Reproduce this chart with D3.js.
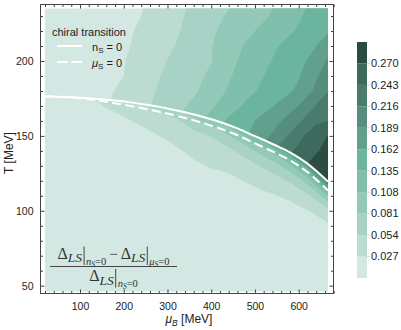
<!DOCTYPE html>
<html><head><meta charset="utf-8">
<script src="https://cdn.jsdelivr.net/npm/d3@7"></script>
<style>body{margin:0;background:#fff}svg{display:block}</style>
</head><body><svg id="c" width="401" height="330"></svg>
<script>
// ---------- data ----------
const muCols = [0,40,80,120,160,200,240,280,320,360,400,440,480,520,560,600,640,680];
// upper field (above chiral transition), rows of T (MeV)
const tRows = [240,230,220,210,200,190,180,170,160,150,140,130,120,110];
const upperValues = [
 [.005,.007,.009,.012,.016,.020,.025,.035,.046,.057,.067,.077,.088,.099,.112,.127,.142,.157],
 [.005,.007,.010,.013,.017,.021,.027,.038,.049,.060,.072,.084,.094,.104,.117,.132,.146,.159],
 [.005,.008,.011,.014,.018,.023,.030,.040,.051,.064,.077,.090,.102,.114,.126,.138,.151,.165],
 [.005,.008,.011,.015,.019,.024,.032,.043,.055,.068,.080,.095,.111,.124,.137,.149,.162,.184],
 [.006,.009,.012,.016,.020,.026,.037,.049,.060,.070,.080,.100,.116,.130,.142,.154,.173,.202],
 [.006,.009,.013,.017,.022,.027,.040,.053,.063,.073,.086,.105,.121,.135,.148,.160,.186,.213],
 [.007,.010,.014,.018,.023,.032,.045,.056,.067,.077,.093,.111,.127,.141,.152,.167,.195,.225],
 [.008,.011,.015,.020,.026,.036,.047,.060,.073,.087,.104,.122,.140,.153,.169,.190,.218,.247],
 [.010,.013,.017,.022,.028,.038,.050,.064,.080,.097,.118,.140,.155,.170,.189,.212,.237,.246],
 [.012,.015,.019,.024,.030,.040,.052,.066,.082,.100,.120,.142,.160,.180,.206,.235,.262,.275],
 [.014,.017,.021,.026,.032,.042,.054,.068,.085,.104,.125,.150,.175,.200,.228,.250,.267,.285],
 [.016,.019,.023,.028,.034,.044,.056,.070,.088,.108,.130,.156,.185,.215,.240,.262,.282,.292],
 [.018,.021,.025,.030,.036,.046,.058,.072,.090,.110,.134,.160,.190,.225,.250,.272,.285,.290],
 [.020,.023,.027,.032,.038,.048,.060,.074,.092,.112,.136,.162,.195,.230,.255,.275,.284,.288]
];
// lower field (below chiral transition), rows of distance below the n_S=0 line (MeV)
const dRows = [0,2,4,7,10,14,19,25,32,40,55,80,140];
const lowerValues = [
 [.004,.006,.012,.026,.034,.044,.054,.062,.078,.092,.105,.118,.132,.148,.168,.190,.214,.235],
 [.004,.006,.010,.023,.031,.040,.049,.055,.066,.082,.093,.104,.116,.130,.148,.166,.186,.200],
 [.004,.005,.008,.020,.029,.036,.044,.050,.058,.072,.082,.092,.104,.114,.128,.144,.160,.165],
 [.004,.005,.007,.017,.025,.031,.039,.044,.050,.062,.070,.080,.090,.098,.108,.120,.132,.130],
 [.004,.005,.006,.014,.021,.027,.034,.039,.044,.055,.058,.067,.076,.084,.090,.098,.106,.100],
 [.004,.005,.006,.011,.017,.022,.028,.033,.038,.048,.050,.056,.062,.068,.072,.076,.080,.075],
 [.004,.005,.006,.009,.013,.017,.022,.027,.032,.040,.043,.046,.050,.054,.056,.058,.056,.050],
 [.004,.005,.005,.008,.010,.013,.017,.021,.026,.032,.035,.037,.040,.041,.041,.042,.036,.030],
 [.004,.005,.005,.007,.008,.010,.013,.016,.020,.025,.028,.027,.029,.029,.028,.027,.022,.018],
 [.004,.005,.005,.006,.007,.008,.010,.012,.015,.018,.020,.019,.020,.020,.018,.017,.014,.012],
 [.004,.005,.005,.006,.006,.007,.008,.009,.010,.011,.012,.011,.012,.012,.011,.010,.010,.009],
 [.004,.005,.005,.005,.005,.006,.006,.007,.007,.007,.007,.007,.007,.007,.007,.007,.007,.006],
 [.004,.005,.005,.005,.005,.005,.005,.005,.005,.005,.005,.005,.005,.005,.005,.005,.005,.005]
];
// chiral transition lines
const transMu   = [20,60,100,140,180,220,260,300,340,380,420,460,500,540,580,620,667];
const transTnS  = [176.3,176.0,175.5,174.7,173.6,172.2,170.4,168.3,165.8,162.8,159.3,155.0,149.8,144.6,139.0,131.5,119.5];
const transTmuS = [176.3,176.0,175.2,173.7,171.8,169.7,167.4,164.9,162.0,158.7,154.9,150.4,145.0,139.6,133.7,125.9,113.5];
// contour levels / colour legend
const levels = [0.027,0.054,0.081,0.108,0.135,0.162,0.189,0.216,0.243,0.270];
const levelLabels = ["0.027","0.054","0.081","0.108","0.135","0.162","0.189","0.216","0.243","0.270"];
const bandColors = ["#d3e8e2","#bcdcd2","#a7d2c5","#93c9b8","#80bfac","#6bb49e","#60a08d","#558e7e","#4a7c6e","#3e695d","#2c4b42"];
const xTicks = [100,200,300,400,500,600];
const yTicks = [50,100,150,200];
const dataMu = [20,667];
const dataT = [46,235];

// ---------- scales ----------
const svg = d3.select("#c");
const x = d3.scaleLinear().domain([9.7,679.6]).range([40.5,333.5]);
const y = d3.scaleLinear().domain([44.8,237.7]).range([293.5,4.5]);
const cb = d3.scaleLinear().domain([0,0.297]).range([278,42]);

const defs = svg.append("defs");
defs.append("clipPath").attr("id","clipData").append("rect")
  .attr("x",x(dataMu[0])).attr("y",y(dataT[1]))
  .attr("width",x(dataMu[1])-x(dataMu[0])).attr("height",y(dataT[0])-y(dataT[1]));

const lineGen = d3.line().curve(d3.curveMonotoneX);
const curveNS = transMu.map((m,i)=>[x(m),y(transTnS[i])]);
const curveMS = transMu.map((m,i)=>[x(m),y(transTmuS[i])]);
const f0 = curveNS[0], fl = curveNS[curveNS.length-1];
defs.append("clipPath").attr("id","clipAbove").append("path")
  .attr("d", lineGen(curveNS)+`L${fl[0]+30},${fl[1]}L${fl[0]+30},-30L${f0[0]-30},-30L${f0[0]-30},${f0[1]}Z`);
defs.append("clipPath").attr("id","clipBelow").append("path")
  .attr("d", lineGen(curveNS)+`L${fl[0]+30},${fl[1]}L${fl[0]+30},360L${f0[0]-30},360L${f0[0]-30},${f0[1]}Z`);

// ---------- contours ----------
const nx = muCols.length;
const gxMu = d3.scaleLinear().domain([0.5,nx-0.5]).range([muCols[0],muCols[nx-1]]);
const gyT = d3.scaleLinear().domain([0.5,tRows.length-0.5]).range([tRows[0],tRows[tRows.length-1]]);
const dIdx = d3.scaleLinear().domain(d3.range(dRows.length)).range(dRows);
const tc = d3.scaleLinear().domain(transMu).range(transTnS);

function densify(mp,n){
  return {type:"MultiPolygon",value:mp.value,coordinates:mp.coordinates.map(poly=>poly.map(ring=>{
    const out=[];
    for(let i=0;i<ring.length-1;i++){const a=ring[i],b=ring[i+1];
      for(let k=0;k<n;k++) out.push([a[0]+(b[0]-a[0])*k/n,a[1]+(b[1]-a[1])*k/n]);}
    out.push(ring[ring.length-1]); return out;}))};
}
const upperPath = d3.geoPath(d3.geoTransform({point(px,py){this.stream.point(x(gxMu(px)),y(gyT(py)));}}));
const lowerPath = d3.geoPath(d3.geoTransform({point(px,py){const m=gxMu(px);this.stream.point(x(m),y(tc(m)-dIdx(py-0.5)));}}));

const upperCont = d3.contours().size([nx,tRows.length]).thresholds(levels)(upperValues.flat());
const lowerCont = d3.contours().size([nx,dRows.length]).thresholds(levels)(lowerValues.flat());

const gData = svg.append("g").attr("clip-path","url(#clipData)");
gData.append("rect").attr("x",0).attr("y",0).attr("width",401).attr("height",330).attr("fill",bandColors[0]);
const gBelow = gData.append("g").attr("clip-path","url(#clipBelow)");
lowerCont.forEach((c,i)=>gBelow.append("path").attr("d",lowerPath(densify(c,6))).attr("fill",bandColors[i+1]));
const gAbove = gData.append("g").attr("clip-path","url(#clipAbove)");
upperCont.forEach((c,i)=>gAbove.append("path").attr("d",upperPath(c)).attr("fill",bandColors[i+1]));

gData.append("path").attr("d",lineGen(curveMS)).attr("fill","none").attr("stroke","#fff")
  .attr("stroke-width",2).attr("stroke-dasharray","9,4.5");
gData.append("path").attr("d",lineGen(curveNS)).attr("fill","none").attr("stroke","#fff").attr("stroke-width",2);

// ---------- axes ----------
const font = "Liberation Sans, Arial, Helvetica, sans-serif";
const xMinor = d3.range(20,681,20).filter(v=>v%100!==0);
const yMinor = d3.range(50,231,10).filter(v=>v%50!==0);
function styleAxis(g){
  g.select(".domain").remove();
  g.attr("font-family",font).attr("font-size",10.5);
  g.selectAll("line").attr("stroke","#444");
  g.selectAll("text").attr("fill","#222");
}
svg.append("g").attr("transform","translate(0,293.5)")
  .call(d3.axisBottom(x).tickValues(xTicks).tickSize(-4).tickPadding(9).tickFormat(d3.format("d"))).call(styleAxis);
svg.append("g").attr("transform","translate(0,293.5)")
  .call(d3.axisBottom(x).tickValues(xMinor).tickSize(-2.5).tickFormat("")).call(styleAxis);
svg.append("g").attr("transform","translate(0,4.5)")
  .call(d3.axisTop(x).tickValues(xTicks).tickSize(-4).tickFormat("")).call(styleAxis);
svg.append("g").attr("transform","translate(0,4.5)")
  .call(d3.axisTop(x).tickValues(xMinor).tickSize(-2.5).tickFormat("")).call(styleAxis);
svg.append("g").attr("transform","translate(40.5,0)")
  .call(d3.axisLeft(y).tickValues(yTicks).tickSize(-4).tickPadding(7).tickFormat(d3.format("d"))).call(styleAxis);
svg.append("g").attr("transform","translate(40.5,0)")
  .call(d3.axisLeft(y).tickValues(yMinor).tickSize(-2.5).tickFormat("")).call(styleAxis);
svg.append("g").attr("transform","translate(333.5,0)")
  .call(d3.axisRight(y).tickValues(yTicks).tickSize(-4).tickFormat("")).call(styleAxis);
svg.append("g").attr("transform","translate(333.5,0)")
  .call(d3.axisRight(y).tickValues(yMinor).tickSize(-2.5).tickFormat("")).call(styleAxis);
svg.append("rect").attr("x",40.5).attr("y",4.5).attr("width",293).attr("height",289)
  .attr("fill","none").attr("stroke","#444");

// axis labels
svg.append("text").attr("transform","translate(13,153) rotate(-90)").attr("text-anchor","middle")
  .attr("font-family",font).attr("font-size",12).attr("fill","#222").text("T [MeV]");
const xl = svg.append("text").attr("x",189).attr("y",323).attr("text-anchor","middle")
  .attr("font-family",font).attr("font-size",12).attr("fill","#222");
xl.append("tspan").attr("font-style","italic").text("μ");
xl.append("tspan").attr("font-style","italic").attr("font-size",8.5).attr("dy",3).text("B");
xl.append("tspan").attr("dy",-3).text(" [MeV]");

// ---------- legend ----------
const lg = svg.append("g").attr("font-family",font).attr("font-size",11).attr("fill","#222");
lg.append("text").attr("x",52).attr("y",35.5).text("chiral transition");
lg.append("line").attr("x1",57).attr("x2",82).attr("y1",46).attr("y2",46).attr("stroke","#fff").attr("stroke-width",2);
lg.append("line").attr("x1",57).attr("x2",82).attr("y1",62).attr("y2",62).attr("stroke","#fff").attr("stroke-width",2).attr("stroke-dasharray","10.5,4");
const l1 = lg.append("text").attr("x",92).attr("y",50.5);
l1.append("tspan").text("n");
l1.append("tspan").attr("font-size",8).attr("dy",2).text("S");
l1.append("tspan").attr("dy",-2).text(" = 0");
const l2 = lg.append("text").attr("x",92).attr("y",66.5);
l2.append("tspan").attr("font-style","italic").text("μ");
l2.append("tspan").attr("font-size",8).attr("dy",2).text("S");
l2.append("tspan").attr("dy",-2).text(" = 0");

// ---------- formula ----------
function layout(g,pieces){
  let cx=0;
  pieces.forEach(p=>{
    cx += p.pre||0;
    if(p.bar){g.append("line").attr("x1",cx+1).attr("x2",cx+1).attr("y1",p.y1).attr("y2",p.y2)
      .attr("stroke","#333").attr("stroke-width",0.9); cx+=p.w; return;}
    const t=g.append("text").attr("x",cx).attr("y",p.dy||0).attr("font-size",p.s)
      .attr("font-style",p.i?"italic":"normal").text(p.t);
    cx += t.node().getComputedTextLength()+(p.gap||0);
  });
  return cx;
}
const serif = "Liberation Serif, DejaVu Serif, Times New Roman, serif";
const part = (sub)=>[
  {t:"Δ",s:16},{t:"LS",s:13.5,i:1,dy:3.5,gap:1},{bar:1,y1:-12,y2:6.5,w:3},
  {t:sub,s:10.5,i:1,dy:6},{t:"S",s:7.5,i:1,dy:8},{t:"=0",s:10.5,dy:6}
];
const numG = svg.append("g").attr("font-family",serif).attr("fill","#333");
const numW = layout(numG,[...part("n"),{t:"−",s:15,pre:3,gap:3},...part("μ")]);
const denG = svg.append("g").attr("font-family",serif).attr("fill","#333");
const denW = layout(denG,part("n"));
const fx0 = 50, fw = Math.max(numW,127);
numG.attr("transform",`translate(${fx0+(fw-numW)/2},258.5)`);
denG.attr("transform",`translate(${fx0+(fw-denW)/2},281)`);
svg.append("line").attr("x1",fx0).attr("x2",fx0+fw).attr("y1",266.5).attr("y2",266.5).attr("stroke","#333").attr("stroke-width",0.9);

// ---------- colour bar ----------
const cbG = svg.append("g");
const bandEdges = [0,...levels,0.297];
bandColors.forEach((c,i)=>{
  cbG.append("rect").attr("x",357).attr("width",10)
    .attr("y",cb(bandEdges[i+1])).attr("height",cb(bandEdges[i])-cb(bandEdges[i+1])).attr("fill",c);
});
levels.forEach((v,i)=>{
  cbG.append("line").attr("x1",367).attr("x2",370).attr("y1",cb(v)).attr("y2",cb(v)).attr("stroke","#bbb").attr("stroke-width",0.6);
  cbG.append("text").attr("x",371).attr("y",cb(v)).attr("dy","0.35em").attr("font-family",font)
    .attr("font-size",11).attr("fill","#222").text(levelLabels[i]);
});
</script></body></html>
